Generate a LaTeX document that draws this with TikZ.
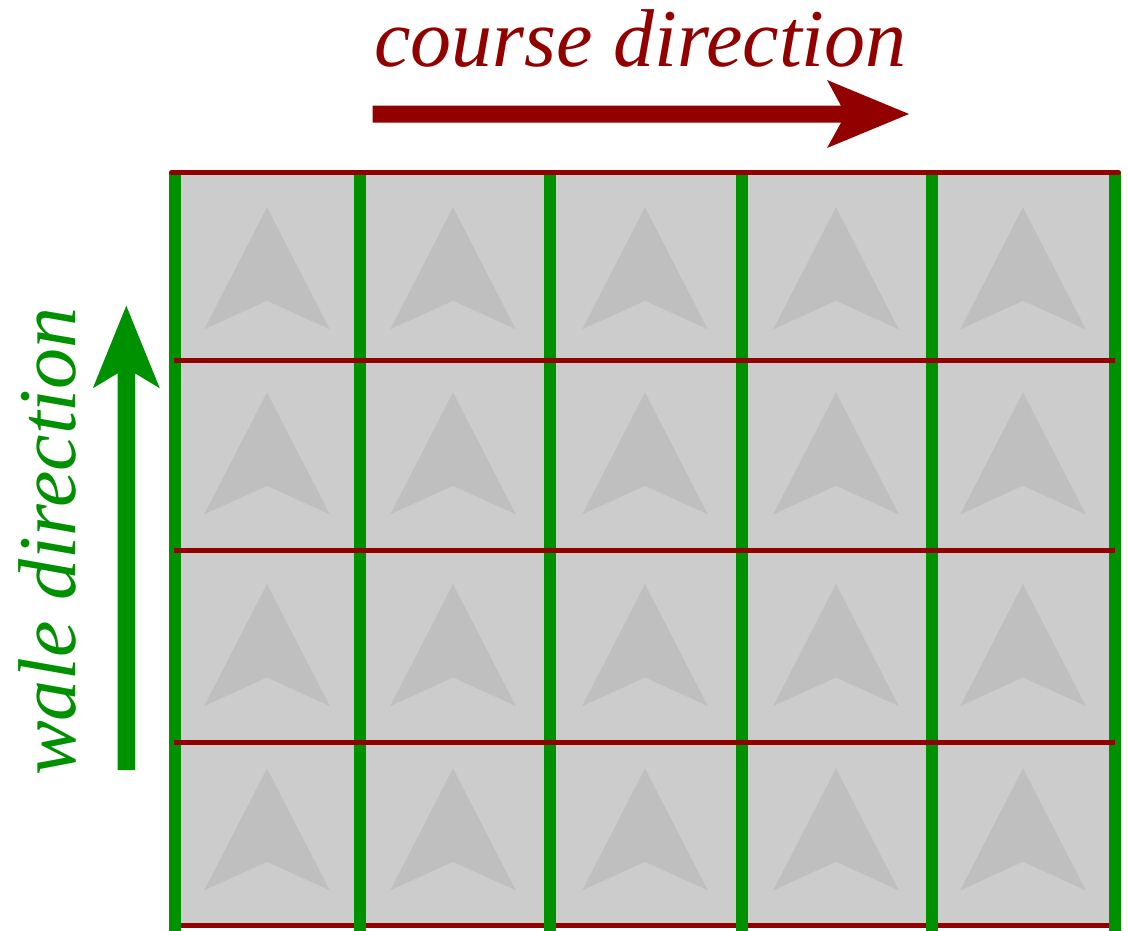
\documentclass[tikz,border=0pt]{standalone}
\usepackage{fontspec}
\setmainfont{Liberation Serif}
\definecolor{coursered}{RGB}{147,0,0}
\definecolor{walegreen}{RGB}{0,145,0}
\definecolor{cellgray}{RGB}{204,204,204}
\definecolor{loopgray}{RGB}{191,191,191}
\tikzset{
  courseline/.style={draw=coursered, line width=5pt},
  waleline/.style={draw=walegreen, line width=12pt},
  looparrow/.style={fill=loopgray, draw=none},
  label/.style={font=\fontsize{82}{90}\selectfont\itshape, inner sep=0pt, anchor=base},
}
\begin{document}
\begin{tikzpicture}[x=1pt, y=-1pt]
\useasboundingbox (0,0) rectangle (1130,930);
% fabric background
\fill[cellgray] (175,172.5) rectangle (1115,925);
% stitch arrows
\foreach \cx in {267,453,645,836,1023}{
  \foreach \ty in {207.3,392.3,584,768.3}{
    \fill[looparrow] (\cx,\ty) -- (\cx+62.7,\ty+122) -- (\cx,\ty+93.4) -- (\cx-62.7,\ty+122) -- cycle;
  }
}
% bottom course line
\draw[courseline] (175,925) -- (1115,925);
% wale lines
\foreach \x in {175,360,550,742,932,1115}{
  \draw[waleline] (\x,172.5) -- (\x,935);
}
% interior course lines
\foreach \y in {360.5,550.5,742}{
  \draw[courseline] (174,\y) -- (1114.5,\y);
}
% top course line
\draw[courseline, line cap=round] (171.5,172.5) -- (1118.5,172.5);
% course direction arrow
\fill[coursered] (372.7,105.7) -- (841,105.7) -- (827,80) -- (909,114) -- (827,148) -- (841,122.7) -- (372.7,122.7) -- cycle;
\node[label, text=coursered] (course) at (640.5,66) {course direction};
% wale direction arrow
\fill[walegreen] (117.7,770) -- (117.7,373.3) -- (92.8,388.3) -- (126.3,305.7) -- (159.8,388.3) -- (135,373.3) -- (135,770) -- cycle;
\node[label, text=walegreen, rotate=90] (wale) at (75,541.5) {wale direction};
\end{tikzpicture}
\end{document}
